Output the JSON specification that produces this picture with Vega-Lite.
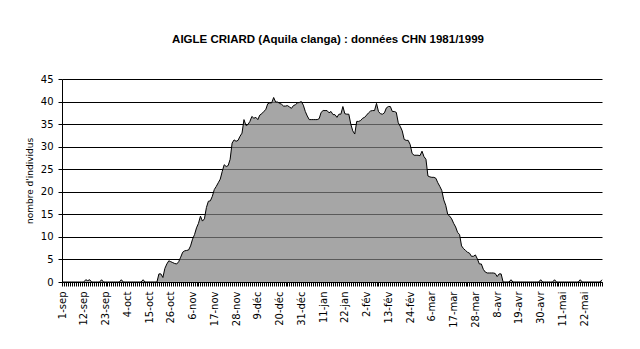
{
  "$schema": "https://vega.github.io/schema/vega-lite/v6.json",
  "width": 540,
  "height": 203,
  "autosize": {"type": "none"},
  "padding": {"left": 62, "top": 79, "right": 38, "bottom": 67},
  "background": "white",
  "title": {"text": "AIGLE CRIARD (Aquila clanga) : données CHN 1981/1999", "font": "Liberation Sans", "fontSize": 11.5, "fontWeight": "bold", "color": "black", "anchor": "middle", "offset": 29, "dx": -4},
  "config": {"view": {"stroke": null}, "axis": {"domainColor": "black", "tickColor": "black", "labelColor": "black", "titleColor": "black", "labelFont": "DejaVu Sans", "titleFont": "DejaVu Sans"}},
  "data": {"values": [
    {"jour":"1-sep","n":0},{"jour":"2-sep","n":0},{"jour":"3-sep","n":0},{"jour":"4-sep","n":0},{"jour":"5-sep","n":0},{"jour":"6-sep","n":0},{"jour":"7-sep","n":0},{"jour":"8-sep","n":0},{"jour":"9-sep","n":0},{"jour":"10-sep","n":0},
    {"jour":"11-sep","n":0},{"jour":"12-sep","n":0},{"jour":"13-sep","n":0.5},{"jour":"14-sep","n":0.3},{"jour":"15-sep","n":0.5},{"jour":"16-sep","n":0},{"jour":"17-sep","n":0},{"jour":"18-sep","n":0},{"jour":"19-sep","n":0},{"jour":"20-sep","n":0},
    {"jour":"21-sep","n":0.5},{"jour":"22-sep","n":0},{"jour":"23-sep","n":0},{"jour":"24-sep","n":0},{"jour":"25-sep","n":0},{"jour":"26-sep","n":0},{"jour":"27-sep","n":0},{"jour":"28-sep","n":0},{"jour":"29-sep","n":0},{"jour":"30-sep","n":0},
    {"jour":"1-oct","n":0.5},{"jour":"2-oct","n":0},{"jour":"3-oct","n":0},{"jour":"4-oct","n":0},{"jour":"5-oct","n":0},{"jour":"6-oct","n":0},{"jour":"7-oct","n":0},{"jour":"8-oct","n":0},{"jour":"9-oct","n":0},{"jour":"10-oct","n":0},
    {"jour":"11-oct","n":0},{"jour":"12-oct","n":0.5},{"jour":"13-oct","n":0},{"jour":"14-oct","n":0},{"jour":"15-oct","n":0},{"jour":"16-oct","n":0},{"jour":"17-oct","n":0},{"jour":"18-oct","n":0},{"jour":"19-oct","n":0},{"jour":"20-oct","n":1.8},
    {"jour":"21-oct","n":1.8},{"jour":"22-oct","n":1.0},{"jour":"23-oct","n":3.0},{"jour":"24-oct","n":4.0},{"jour":"25-oct","n":4.7},{"jour":"26-oct","n":4.5},{"jour":"27-oct","n":4.3},{"jour":"28-oct","n":4.1},{"jour":"29-oct","n":4.0},{"jour":"30-oct","n":4.5},
    {"jour":"31-oct","n":5.5},
    {"jour":"1-nov","n":6.6},{"jour":"2-nov","n":6.9},{"jour":"3-nov","n":7.0},{"jour":"4-nov","n":7.1},{"jour":"5-nov","n":8.0},{"jour":"6-nov","n":9.5},{"jour":"7-nov","n":10.5},{"jour":"8-nov","n":12.0},{"jour":"9-nov","n":13.0},{"jour":"10-nov","n":14.6},
    {"jour":"11-nov","n":13.5},{"jour":"12-nov","n":14.0},{"jour":"13-nov","n":16.5},{"jour":"14-nov","n":17.9},{"jour":"15-nov","n":18.0},{"jour":"16-nov","n":19.0},{"jour":"17-nov","n":20.5},{"jour":"18-nov","n":21.2},{"jour":"19-nov","n":22.0},{"jour":"20-nov","n":22.8},
    {"jour":"21-nov","n":24.5},{"jour":"22-nov","n":26.0},{"jour":"23-nov","n":25.6},{"jour":"24-nov","n":25.8},{"jour":"25-nov","n":27.2},{"jour":"26-nov","n":30.8},{"jour":"27-nov","n":31.5},{"jour":"28-nov","n":31.2},{"jour":"29-nov","n":31.4},{"jour":"30-nov","n":32.3},
    {"jour":"1-déc","n":33.0},{"jour":"2-déc","n":36.0},{"jour":"3-déc","n":34.7},{"jour":"4-déc","n":34.9},{"jour":"5-déc","n":35.6},{"jour":"6-déc","n":36.7},{"jour":"7-déc","n":36.3},{"jour":"8-déc","n":36.5},{"jour":"9-déc","n":36.0},{"jour":"10-déc","n":37.0},
    {"jour":"11-déc","n":37.3},{"jour":"12-déc","n":37.8},{"jour":"13-déc","n":38.2},{"jour":"14-déc","n":39.5},{"jour":"15-déc","n":39.7},{"jour":"16-déc","n":39.7},{"jour":"17-déc","n":40.9},{"jour":"18-déc","n":39.9},{"jour":"19-déc","n":39.9},{"jour":"20-déc","n":39.6},
    {"jour":"21-déc","n":39.4},{"jour":"22-déc","n":39.0},{"jour":"23-déc","n":39.0},{"jour":"24-déc","n":39.1},{"jour":"25-déc","n":38.8},{"jour":"26-déc","n":38.5},{"jour":"27-déc","n":39.1},{"jour":"28-déc","n":39.3},{"jour":"29-déc","n":39.7},{"jour":"30-déc","n":39.8},
    {"jour":"31-déc","n":40.0},
    {"jour":"1-jan","n":39.2},{"jour":"2-jan","n":37.8},{"jour":"3-jan","n":36.8},{"jour":"4-jan","n":36.0},{"jour":"5-jan","n":36.0},{"jour":"6-jan","n":36.0},{"jour":"7-jan","n":36.0},{"jour":"8-jan","n":36.0},{"jour":"9-jan","n":36.2},{"jour":"10-jan","n":37.6},
    {"jour":"11-jan","n":38.0},{"jour":"12-jan","n":38.0},{"jour":"13-jan","n":38.0},{"jour":"14-jan","n":37.5},{"jour":"15-jan","n":37.8},{"jour":"16-jan","n":37.1},{"jour":"17-jan","n":37.1},{"jour":"18-jan","n":36.5},{"jour":"19-jan","n":37.2},{"jour":"20-jan","n":37.2},
    {"jour":"21-jan","n":38.9},{"jour":"22-jan","n":37.3},{"jour":"23-jan","n":37.2},{"jour":"24-jan","n":37.2},{"jour":"25-jan","n":35.0},{"jour":"26-jan","n":33.5},{"jour":"27-jan","n":32.8},{"jour":"28-jan","n":35.6},{"jour":"29-jan","n":35.6},{"jour":"30-jan","n":35.8},
    {"jour":"31-jan","n":36.3},
    {"jour":"1-fév","n":36.5},{"jour":"2-fév","n":37.0},{"jour":"3-fév","n":37.5},{"jour":"4-fév","n":37.9},{"jour":"5-fév","n":38.0},{"jour":"6-fév","n":38.0},{"jour":"7-fév","n":39.6},{"jour":"8-fév","n":37.8},{"jour":"9-fév","n":37.3},{"jour":"10-fév","n":37.2},
    {"jour":"11-fév","n":37.5},{"jour":"12-fév","n":38.6},{"jour":"13-fév","n":38.9},{"jour":"14-fév","n":38.9},{"jour":"15-fév","n":37.8},{"jour":"16-fév","n":37.8},{"jour":"17-fév","n":37.6},{"jour":"18-fév","n":35.3},{"jour":"19-fév","n":34.5},{"jour":"20-fév","n":33.5},
    {"jour":"21-fév","n":31.6},{"jour":"22-fév","n":31.4},{"jour":"23-fév","n":31.4},{"jour":"24-fév","n":30.5},{"jour":"25-fév","n":28.5},{"jour":"26-fév","n":28.1},{"jour":"27-fév","n":28.1},{"jour":"28-fév","n":28.1},{"jour":"29-fév","n":28.0},
    {"jour":"1-mar","n":29.0},{"jour":"2-mar","n":27.8},{"jour":"3-mar","n":27.2},{"jour":"4-mar","n":23.5},{"jour":"5-mar","n":23.3},{"jour":"6-mar","n":23.2},{"jour":"7-mar","n":23.2},{"jour":"8-mar","n":23.0},{"jour":"9-mar","n":22.0},{"jour":"10-mar","n":21.2},
    {"jour":"11-mar","n":20.3},{"jour":"12-mar","n":18.2},{"jour":"13-mar","n":17.0},{"jour":"14-mar","n":15.0},{"jour":"15-mar","n":14.6},{"jour":"16-mar","n":14.0},{"jour":"17-mar","n":13.0},{"jour":"18-mar","n":12.2},{"jour":"19-mar","n":11.0},{"jour":"20-mar","n":10.5},
    {"jour":"21-mar","n":8.0},{"jour":"22-mar","n":7.4},{"jour":"23-mar","n":7.0},{"jour":"24-mar","n":6.6},{"jour":"25-mar","n":6.4},{"jour":"26-mar","n":5.7},{"jour":"27-mar","n":5.7},{"jour":"28-mar","n":6.0},{"jour":"29-mar","n":5.1},{"jour":"30-mar","n":4.0},
    {"jour":"31-mar","n":4.0},
    {"jour":"1-avr","n":2.8},{"jour":"2-avr","n":2.2},{"jour":"3-avr","n":2.0},{"jour":"4-avr","n":2.0},{"jour":"5-avr","n":2.0},{"jour":"6-avr","n":2.0},{"jour":"7-avr","n":1.9},{"jour":"8-avr","n":1.2},{"jour":"9-avr","n":1.8},{"jour":"10-avr","n":1.8},
    {"jour":"11-avr","n":0},{"jour":"12-avr","n":0},{"jour":"13-avr","n":0},{"jour":"14-avr","n":0},{"jour":"15-avr","n":0.5},{"jour":"16-avr","n":0},{"jour":"17-avr","n":0},{"jour":"18-avr","n":0},{"jour":"19-avr","n":0},{"jour":"20-avr","n":0},
    {"jour":"21-avr","n":0},{"jour":"22-avr","n":0},{"jour":"23-avr","n":0},{"jour":"24-avr","n":0},{"jour":"25-avr","n":0},{"jour":"26-avr","n":0},{"jour":"27-avr","n":0},{"jour":"28-avr","n":0},{"jour":"29-avr","n":0},{"jour":"30-avr","n":0.5},
    {"jour":"1-mai","n":0},{"jour":"2-mai","n":0},{"jour":"3-mai","n":0},{"jour":"4-mai","n":0},{"jour":"5-mai","n":0},{"jour":"6-mai","n":0},{"jour":"7-mai","n":0.5},{"jour":"8-mai","n":0},{"jour":"9-mai","n":0},{"jour":"10-mai","n":0},
    {"jour":"11-mai","n":0},{"jour":"12-mai","n":0},{"jour":"13-mai","n":0},{"jour":"14-mai","n":0},{"jour":"15-mai","n":0},{"jour":"16-mai","n":0},{"jour":"17-mai","n":0},{"jour":"18-mai","n":0},{"jour":"19-mai","n":0},{"jour":"20-mai","n":0.5},
    {"jour":"21-mai","n":0},{"jour":"22-mai","n":0},{"jour":"23-mai","n":0},{"jour":"24-mai","n":0},{"jour":"25-mai","n":0},{"jour":"26-mai","n":0},{"jour":"27-mai","n":0},{"jour":"28-mai","n":0},{"jour":"29-mai","n":0},{"jour":"30-mai","n":0},
    {"jour":"31-mai","n":0.5}
  ]},
  "mark": {"type": "area", "color": "#808080", "interpolate": "linear", "line": {"color": "black", "strokeWidth": 1}},
  "encoding": {
    "x": {
      "field": "jour", "type": "ordinal", "sort": null,
      "scale": {"type": "point", "padding": 0},
      "axis": {
        "title": null, "grid": false, "zindex": 1,
        "ticks": true, "tickWidth": 1, "tickOpacity": 1, "tickCount": 274,
        "labelAngle": 270, "labelOverlap": false, "labelFontSize": 10,
        "tickSize": 4, "labelPadding": 5,
        "labelExpr": "indexof(['1-sep','12-sep','23-sep','4-oct','15-oct','26-oct','6-nov','17-nov','28-nov','9-déc','20-déc','31-déc','11-jan','22-jan','2-fév','13-fév','24-fév','6-mar','17-mar','28-mar','8-avr','19-avr','30-avr','11-mai','22-mai'], datum.label) >= 0 ? datum.label : ''"
      }
    },
    "y": {
      "field": "n", "type": "quantitative",
      "scale": {"domain": [0, 45], "nice": false},
      "axis": {
        "title": "nombre d'individus", "values": [0, 5, 10, 15, 20, 25, 30, 35, 40, 45],
        "grid": true, "gridColor": "black", "gridOpacity": 1, "gridWidth": 1,
        "tickSize": 4, "labelPadding": 5, "labelFontSize": 10,
        "titleFontSize": 9, "titleFontWeight": "normal", "titlePadding": 6
      }
    }
  }
}
